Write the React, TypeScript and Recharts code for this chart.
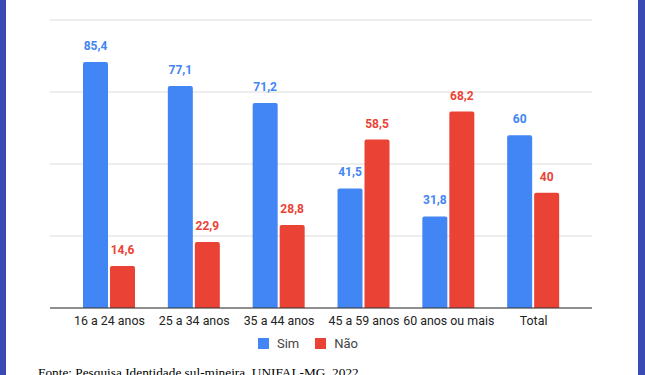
import React from "react";
import {
  BarChart,
  Bar,
  XAxis,
  YAxis,
  CartesianGrid,
  Legend,
  LabelList,
} from "recharts";

const faixas = [
  "16 a 24 anos",
  "25 a 34 anos",
  "35 a 44 anos",
  "45 a 59 anos",
  "60 anos ou mais",
  "Total",
];
const sim = [85.4, 77.1, 71.2, 41.5, 31.8, 60];
const nao = [14.6, 22.9, 28.8, 58.5, 68.2, 40];
const yTicks = [0, 25, 50, 75, 100];
const series = [
  { key: "sim", label: "Sim", color: "#4285f4" },
  { key: "nao", label: "Não", color: "#ea4335" },
];

const data = faixas.map((name, i) => ({ name, sim: sim[i], nao: nao[i] }));

const fmt = (v: number) => String(v).replace(".", ",");

function LegendBox() {
  return (
    <div
      style={{
        display: "flex",
        justifyContent: "center",
        gap: 16,
        fontSize: 13,
        fontFamily: "Roboto, Arial, sans-serif",
        color: "#444",
        marginLeft: -26,
      }}
    >
      {series.map((s) => (
        <div key={s.key} style={{ display: "flex", alignItems: "center", gap: 8 }}>
          <span style={{ display: "inline-block", width: 11, height: 11, background: s.color }} />
          <span>{s.label}</span>
        </div>
      ))}
    </div>
  );
}

export default function App() {
  return (
    <div
      style={{
        position: "absolute",
        left: 0,
        top: 0,
        width: 645,
        height: 375,
        overflow: "hidden",
        background: "#fff",
      }}
    >
      <div style={{ position: "absolute", left: 0, top: 0, width: 6, height: 375, background: "#3a4ab5" }} />
      <div style={{ position: "absolute", left: 638, top: 0, width: 7, height: 375, background: "#3a4ab5" }} />
      <div style={{ position: "absolute", left: 0, top: 0 }}>
        <BarChart
          width={645}
          height={351}
          data={data}
          barSize={25}
          barGap={2}
          margin={{ top: 20, right: 53, left: 50, bottom: 0 }}
        >
          <CartesianGrid vertical={false} stroke="#dcdcdc" />
          <YAxis hide domain={[0, 100]} ticks={yTicks} />
          <XAxis
            dataKey="name"
            tickLine={false}
            axisLine={{ stroke: "#333" }}
            padding={{ left: 17, right: 16 }}
            interval={0}
            height={28}
            tick={{ fontSize: 12.4, fill: "#222", fontFamily: "Roboto, Arial, sans-serif" }}
          />
          <Legend verticalAlign="bottom" content={() => <LegendBox />} />
          {series.map((s) => (
            <Bar
              key={s.key}
              dataKey={s.key}
              name={s.label}
              fill={s.color}
              radius={[2, 2, 0, 0]}
              isAnimationActive={false}
            >
              <LabelList
                dataKey={s.key}
                position="top"
                offset={12}
                formatter={fmt}
                style={{ fill: s.color, fontSize: 12, fontWeight: "bold", fontFamily: "Roboto" }}
              />
            </Bar>
          ))}
        </BarChart>
      </div>
      <div
        style={{
          position: "absolute",
          left: 38,
          top: 366,
          fontFamily: "'Times New Roman', 'Liberation Serif', serif",
          fontSize: 13.3,
          lineHeight: 1,
          color: "#000",
          whiteSpace: "nowrap",
        }}
      >
        Fonte: Pesquisa Identidade sul-mineira, UNIFAL-MG, 2022
      </div>
    </div>
  );
}
